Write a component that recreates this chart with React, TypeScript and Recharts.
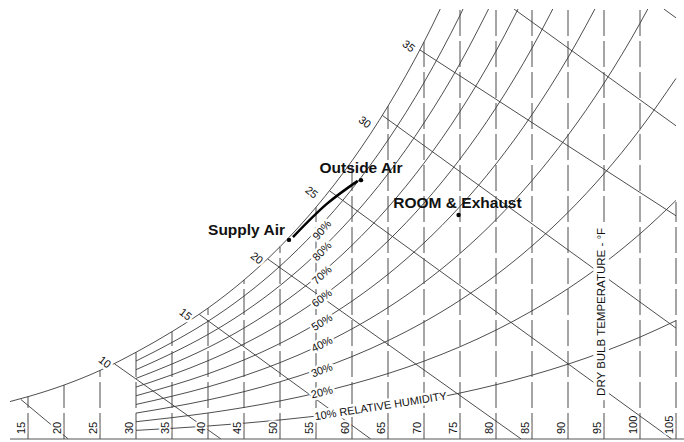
import React from 'react';
import { ComposedChart, Line, Scatter, XAxis, YAxis } from 'recharts';

const FONT = '"Liberation Sans", Arial, Helvetica, sans-serif';
const INK = '#111';
const GRID = '#3a3a3a';
const W_TOP = 119.44; // humidity ratio (grains/lb) at the top edge of the sheet

// dry bulb temperature lines, deg F
const DRY_BULB_TICKS = [15, 20, 25, 30, 35, 40, 45, 50, 55, 60, 65, 70, 75, 80, 85, 90, 95, 100, 105];
// where each dry bulb line stops (grains/lb)
const DRY_BULB_TOP = [11.76, 14.98, 19.04, 24.09, 29.82, 36.36, 44.16, 53.41, 64.37, 77.28, 92.46, 110.29,
  W_TOP, W_TOP, W_TOP, W_TOP, W_TOP, W_TOP, 65.8];

// saturation curve
const SAT_TEMPS = [12.5, 15, 20, 25, 30, 35, 40, 45, 50, 55, 60, 65, 70, 75];
const SAT_W = [10.4, 11.76, 14.98, 19.04, 24.09, 29.82, 36.36, 44.16, 53.41, 64.37, 77.28, 92.46, 110.29, 131.2];

// relative humidity curves, grains/lb at RH_TEMPS
const RH_TEMPS = [30, 35, 40, 45, 50, 55, 60, 65, 70, 75, 80, 85, 90, 95, 100, 105];
const RH_10 = [2.4, 2.96, 3.61, 4.38, 5.28, 6.35, 7.61, 9.07, 10.78, 12.77, 15.07, 17.73, 20.78, 24.29, 28.3, 32.88];
const RH_20 = [4.8, 5.93, 7.22, 8.76, 10.58, 12.72, 15.24, 18.18, 21.62, 25.62, 30.25, 35.6, 41.77, 48.85, 56.98, 66.27];
const RH_30 = [7.2, 8.9, 10.84, 13.15, 15.89, 19.11, 22.9, 27.33, 32.51, 38.54, 45.53, 53.62, 62.95, 73.69, 86.03, 100.17];
const RH_40 = [9.6, 11.88, 14.47, 17.56, 21.21, 25.52, 30.59, 36.52, 43.46, 51.53, 60.92, 71.79, 84.35, 98.81, 115.47, 134.6];
const RH_50 = [12.01, 14.86, 18.1, 21.97, 26.54, 31.95, 38.3, 45.75, 54.46, 64.61, 76.41, 90.11, 105.94, 124.2];
const RH_60 = [14.42, 17.84, 21.74, 26.39, 31.89, 38.39, 46.04, 55.01, 65.51, 77.76, 92.02, 108.58, 127.8];
const RH_70 = [16.83, 20.83, 25.39, 30.82, 37.25, 44.86, 53.81, 64.32, 76.62, 90.99, 107.73, 127.2];
const RH_80 = [19.25, 23.82, 29.04, 35.25, 42.62, 51.34, 61.6, 73.66, 87.79, 104.3, 123.56];
const RH_90 = [21.66, 26.82, 32.7, 39.7, 48.01, 57.85, 69.43, 83.04, 99.01, 117.69, 139.5];

// enthalpy lines (start on saturation, end at bottom or right edge)
const ENTH_START_T = [14.0, 27.0, 38.8, 48.3, 56.9, 64.2, 69.4, 82.5, 103.3];
const ENTH_START_W = [11.0, 20.9, 34.6, 50.0, 68.9, 89.9, 108.1, 119.44, 119.44];
const ENTH_END_T = [20.6, 41.8, 62.6, 83.5, 104.4, 105, 105, 105, 105];
const ENTH_END_W = [0, 0, 0, 0, 0, 30.8, 62.0, 87.0, 117.0];

const ENTH_LABELS = ['10', '15', '20', '25', '30', '35'];
const ENTH_LABEL_T = [25.7, 36.9, 46.8, 54.4, 61.8, 67.9];
const ENTH_LABEL_W = [21.4, 34.7, 50.3, 68.6, 88.1, 109.2];

const RH_LABELS = ['90%', '80%', '70%', '60%', '50%', '40%', '30%', '20%'];
const RH_LABEL_T = [55.8, 55.8, 55.8, 55.8, 55.8, 55.8, 55.8, 55.8];
const RH_LABEL_W = [58.1, 52.2, 45.6, 39.2, 32.5, 26.4, 19.2, 13.1];
const RH_LABEL_ANGLE = [-49, -46, -42, -37, -32, -27, -21, -14];

// air states
const STATE_NAMES = ['Supply Air', 'Outside Air', 'ROOM & Exhaust'];
const STATE_T = [51.25, 61.25, 74.8];
const STATE_W = [55.3, 71.9, 62.2];
const STATE_LABEL_T = [45.35, 61.25, 74.65];
const STATE_LABEL_W = [56.7, 73.9, 64.2];

// mixing / process path
const PROCESS_T = [51.8, 56.5, 60.8];
const PROCESS_W = [56.1, 65.3, 71.7];

const pts = (ts: number[], ws: number[]) => ws.map((w, i) => ({ t: ts[i], w }));

const rhCurves = [RH_10, RH_20, RH_30, RH_40, RH_50, RH_60, RH_70, RH_80, RH_90];

type Note = {
  t: number; w: number; text: string; angle: number; size: number;
  bold?: boolean; box?: boolean; anchor: string; mid: boolean;
};

const notes: Note[] = [
  ...ENTH_LABELS.map((text, i) => ({ t: ENTH_LABEL_T[i], w: ENTH_LABEL_W[i], text, angle: 38, size: 11, anchor: 'middle', mid: true })),
  ...RH_LABELS.map((text, i) => ({ t: RH_LABEL_T[i], w: RH_LABEL_W[i], text, angle: RH_LABEL_ANGLE[i], size: 11, anchor: 'middle', mid: true })),
  { t: 54.8, w: 6.3, text: '10% RELATIVE HUMIDITY', angle: -9, size: 11, anchor: 'start', mid: true },
  { t: 94.6, w: 35.3, text: 'DRY BULB TEMPERATURE - °F', angle: -90, size: 11.5, anchor: 'middle', mid: true, box: true },
  ...STATE_NAMES.map((text, i) => ({ t: STATE_LABEL_T[i], w: STATE_LABEL_W[i], text, angle: 0, size: 15.5, bold: true, anchor: 'middle', mid: false })),
];

function NoteShape(props: any) {
  const { cx, cy, payload } = props;
  const n = payload as Note;
  const rot = n.angle ? `rotate(${n.angle} ${cx} ${cy})` : undefined;
  const boxW = n.text.length * n.size * 0.6 + 4;
  return (
    <g transform={rot}>
      {n.box && <rect x={cx - boxW / 2} y={cy - n.size / 2 - 2} width={boxW} height={n.size + 4} fill="#fff" />}
      <text
        x={cx}
        y={cy}
        textAnchor={n.anchor as any}
        dominantBaseline={n.mid ? 'central' : 'auto'}
        fontFamily={FONT}
        fontSize={n.size}
        fontWeight={n.bold ? 700 : 400}
        fill={INK}
        stroke={n.bold ? 'none' : '#fff'}
        strokeWidth={5}
        strokeLinejoin="round"
        paintOrder="stroke"
      >
        {n.text}
      </text>
    </g>
  );
}

function DotShape(props: any) {
  return <circle cx={props.cx} cy={props.cy} r={2.2} fill="#000" />;
}

function DryBulbTick(props: any) {
  const { x, y, payload } = props;
  return (
    <text
      transform={`translate(${x - 3},${y - 5}) rotate(-90)`}
      textAnchor="start"
      fontFamily={FONT}
      fontSize={11}
      fill={INK}
      stroke="#fff"
      strokeWidth={4}
      strokeLinejoin="round"
      paintOrder="stroke"
    >
      {payload.value}
    </text>
  );
}

export default function App() {
  const thin = { dot: false, activeDot: false, isAnimationActive: false, stroke: GRID, strokeWidth: 0.9 } as const;
  return (
    <div style={{ position: 'fixed', left: 0, top: 0, width: 684, height: 442, background: '#fff' }}>
      <ComposedChart width={684} height={442} margin={{ top: 9, right: 0, bottom: 0, left: 10 }}>
        <XAxis
          type="number"
          dataKey="t"
          domain={[12.5, 106.11]}
          ticks={DRY_BULB_TICKS}
          interval={0}
          allowDataOverflow
          height={3}
          tickSize={0}
          tickMargin={0}
          tickLine={false}
          axisLine={{ stroke: '#555', strokeWidth: 1 }}
          tick={(p: any) => <DryBulbTick {...p} />}
        />
        <YAxis type="number" dataKey="w" domain={[0, W_TOP]} allowDataOverflow hide />

        {DRY_BULB_TICKS.map((t, i) => (
          <Line
            key={`db${t}`}
            data={[{ t, w: 0 }, { t, w: DRY_BULB_TOP[i] }]}
            dataKey="w"
            type="linear"
            {...thin}
            stroke="#4a4a4a"
            strokeWidth={1}
            strokeDasharray="26 5"
          />
        ))}

        <Line data={pts(SAT_TEMPS, SAT_W)} dataKey="w" type="monotone" {...thin} />
        {rhCurves.map((ws, i) => (
          <Line key={`rh${i}`} data={pts(RH_TEMPS, ws)} dataKey="w" type="monotone" {...thin} />
        ))}

        {ENTH_START_T.map((t, i) => (
          <Line
            key={`h${i}`}
            data={[{ t, w: ENTH_START_W[i] }, { t: ENTH_END_T[i], w: ENTH_END_W[i] }]}
            dataKey="w"
            type="linear"
            {...thin}
          />
        ))}

        <Line
          data={pts(PROCESS_T, PROCESS_W)}
          dataKey="w"
          type="monotone"
          dot={false}
          activeDot={false}
          isAnimationActive={false}
          stroke="#000"
          strokeWidth={2.5}
        />

        <Scatter data={pts(STATE_T, STATE_W)} dataKey="w" shape={DotShape} isAnimationActive={false} />
        <Scatter data={notes} dataKey="w" shape={NoteShape} isAnimationActive={false} />
      </ComposedChart>
    </div>
  );
}
